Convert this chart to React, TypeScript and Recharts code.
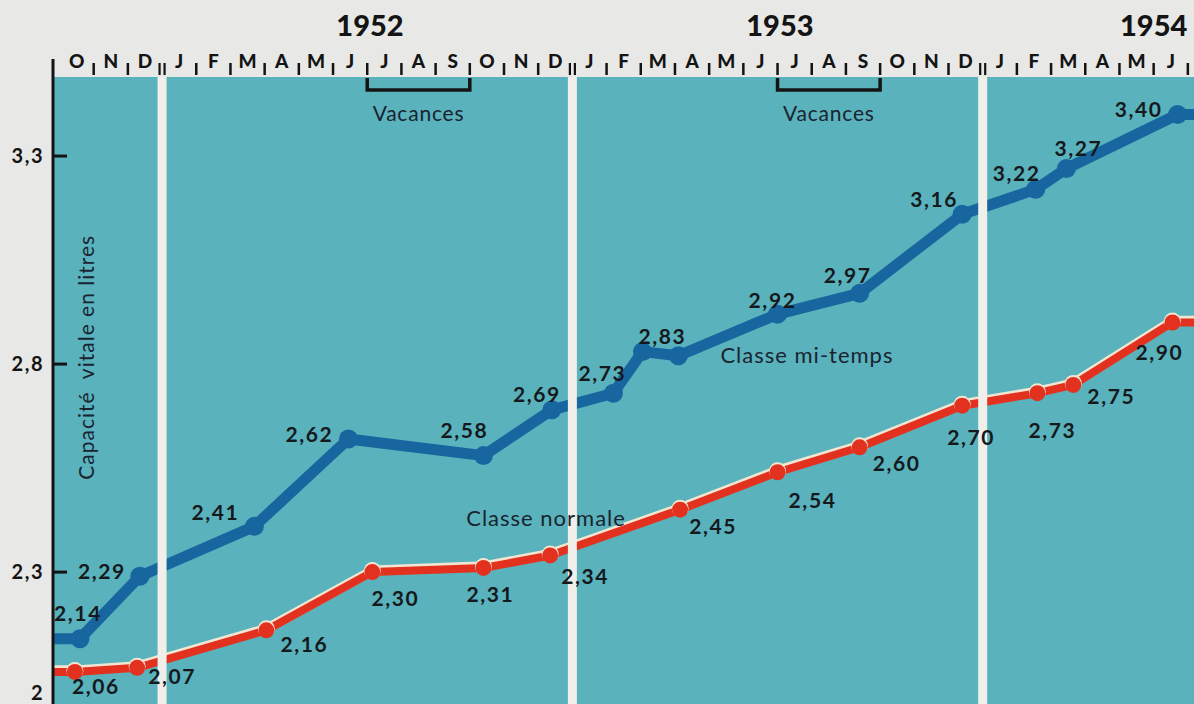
import React from 'react';
import {
  ComposedChart,
  Line,
  XAxis,
  YAxis,
  CartesianGrid,
  ReferenceLine,
  ReferenceArea,
  ReferenceDot,
  LabelList,
} from 'recharts';

// abscisse en mois depuis le 1er octobre 1951 (0 = début octobre)
const moisLettres = [
  'O', 'N', 'D',
  'J', 'F', 'M', 'A', 'M', 'J', 'J', 'A', 'S', 'O', 'N', 'D',
  'J', 'F', 'M', 'A', 'M', 'J', 'J', 'A', 'S', 'O', 'N', 'D',
  'J', 'F', 'M', 'A', 'M', 'J',
];
const annees = ['1952', '1953', '1954'];
const anneesCentres = [9.08, 21.07, 32.0];
const finsAnnee = [3, 15, 27];
const vacancesDebut = [9, 21];
const vacancesFin = [12, 24];
const graduationsY = [2, 2.3, 2.8, 3.3];

// Classe mi-temps
const moisMiTemps = [-0.6, 0.6, 2.35, 5.7, 8.45, 12.4, 14.4, 16.2, 17.05, 18.1, 21.0, 23.4, 26.4, 28.55, 29.45, 32.7, 33.8];
const valeursMiTemps = [2.14, 2.14, 2.29, 2.41, 2.62, 2.58, 2.69, 2.73, 2.83, 2.82, 2.92, 2.97, 3.16, 3.22, 3.27, 3.40, 3.40];

// Classe normale
const moisNormale = [-0.6, 0.45, 2.27, 6.05, 9.15, 12.4, 14.35, 18.15, 21.0, 23.4, 26.4, 28.6, 29.65, 32.55, 33.8];
const valeursNormale = [2.06, 2.06, 2.07, 2.16, 2.30, 2.31, 2.34, 2.45, 2.54, 2.60, 2.70, 2.73, 2.75, 2.90, 2.90];

// décalage des étiquettes de valeur par rapport au point (null = pas d'étiquette)
type Decalage = [number, number] | null;
const decalagesMiTemps: Decalage[] = [
  null, [-2, -26], [-38, -6], [-39, -15], [-39, -5], [-19, -26], [-15, -16], [-11, -21],
  [20, -16], null, [-5, -15], [-12, -19], [-28, -16], [-19, -17], [12, -21], [-39, -6], null,
];
const decalagesNormale: Decalage[] = [
  null, [21, 14], [35, 8], [38, 13], [23, 25], [7, 26], [35, 20], [33, 16],
  [35, 27], [37, 15], [9, 31], [15, 36], [38, 11], [-13, 29], null,
];

const donneesMiTemps = moisMiTemps.map((t, i) => ({ t, v: valeursMiTemps[i] }));
const donneesNormale = moisNormale.map((t, i) => ({ t, v: valeursNormale[i] }));

const ticksHaut: number[] = [-0.19];
moisLettres.forEach((_, i) => {
  ticksHaut.push(i + 0.5);
  ticksHaut.push(i + 1);
});

const BLEU = '#17669f';
const ROUGE = '#e2321f';
const TURQUOISE = '#59b2bc';
const BLANC = '#f1efe9';
const NOIR = '#141414';
const ENCRE = '#1a2430';
const POLICE = 'Lato, "Open Sans", sans-serif';

const virgule = (v: number, d: number) => v.toFixed(d).replace('.', ',');

const TickMois = (props: any) => {
  const { x, y, payload } = props;
  const v = payload.value as number;
  if (v < 0) {
    return <line x1={x} x2={x} y1={y - 18} y2={y} stroke={NOIR} strokeWidth={3} />;
  }
  if (Number.isInteger(v)) {
    if (finsAnnee.includes(v)) {
      return (
        <g>
          <line x1={x - 2.5} x2={x - 2.5} y1={y - 14} y2={y - 2} stroke={NOIR} strokeWidth={2.2} />
          <line x1={x + 2.5} x2={x + 2.5} y1={y - 14} y2={y - 2} stroke={NOIR} strokeWidth={2.2} />
        </g>
      );
    }
    return <line x1={x} x2={x} y1={y - 14} y2={y - 2} stroke={NOIR} strokeWidth={2.5} />;
  }
  return (
    <text x={x} y={y - 9} textAnchor="middle" fontFamily={POLICE} fontWeight={900} fontSize={19} fill={NOIR}>
      {moisLettres[Math.floor(v)]}
    </text>
  );
};

const TickY = (props: any) => {
  const { x, y, payload } = props;
  const v = payload.value as number;
  // la graduation 2 est au ras du bas : on remonte un peu son texte
  const ty = v === 2 ? y - 4 : y;
  return (
    <g>
      {v > 2 && <line x1={x} x2={x + 14} y1={y} y2={y} stroke={NOIR} strokeWidth={3} />}
      <text x={x - 9} y={ty} dy="0.36em" textAnchor="end" fontFamily={POLICE} fontWeight={700} fontSize={20} fill={NOIR} letterSpacing={1.5}>
        {v === 2 ? '2' : virgule(v, 1)}
      </text>
    </g>
  );
};

const TitreY = (props: any) => {
  const vb = props.viewBox || {};
  const cx = vb.x + vb.width + 33;
  const cy = vb.y + vb.height * 0.447;
  return (
    <text
      x={cx}
      y={cy}
      transform={`rotate(-90 ${cx} ${cy})`}
      textAnchor="middle"
      dominantBaseline="central"
      fontFamily={POLICE}
      fontSize={21}
      fill={ENCRE}
      letterSpacing={1}
      style={{ whiteSpace: 'pre' }}
    >
      {'Capacité  vitale en litres'}
    </text>
  );
};

const Accolade = (props: any) => {
  const { x, y, width } = props;
  return (
    <g>
      <path d={`M${x},${y + 1} V${y + 13} H${x + width} V${y + 1}`} fill="none" stroke={NOIR} strokeWidth={3.5} />
      <text x={x + width / 2} y={y + 35} textAnchor="middle" dominantBaseline="central" fontFamily={POLICE} fontSize={21} fill={ENCRE} letterSpacing={0.8}>
        Vacances
      </text>
    </g>
  );
};

const etiquette = (decalages: Decalage[]) => (props: any) => {
  const px = props.x ?? props.viewBox?.x;
  const py = props.y ?? props.viewBox?.y;
  const d = decalages[props.index];
  if (!d || px == null || py == null) return null;
  return (
    <text
      x={px + d[0]}
      y={py + d[1]}
      textAnchor="middle"
      dominantBaseline="central"
      fontFamily={POLICE}
      fontWeight={700}
      fontSize={21}
      letterSpacing={1.6}
      fill="#15191c"
    >
      {virgule(Number(props.value), 2)}
    </text>
  );
};

const PointRouge = (props: any) => {
  const { cx, cy } = props;
  if (cx == null || cy == null) return null;
  return (
    <g>
      <circle cx={cx} cy={cy - 1.5} r={8.5} fill="#f2e6d2" />
      <circle cx={cx} cy={cy} r={8} fill={ROUGE} />
    </g>
  );
};

const PointBleu = (props: any) => {
  const { cx, cy } = props;
  if (cx == null || cy == null) return null;
  return <circle cx={cx} cy={cy} r={9.5} fill={BLEU} />;
};

const texteSerie = { fontFamily: POLICE, fontSize: 22, fill: ENCRE, letterSpacing: 1 };

export default function App() {
  return (
    <div style={{ position: 'absolute', left: 0, top: 0, width: 1194, height: 704, background: '#e8e8e6', overflow: 'hidden' }}>
      <style>{'.halo-rouge path { transform: translateY(-1.6px); }'}</style>
      <ComposedChart width={1194} height={704} margin={{ top: 0, right: 0, bottom: 0, left: 0 }}>
        <CartesianGrid fill={TURQUOISE} horizontal={false} vertical={false} stroke="none" />
        <XAxis
          type="number"
          dataKey="t"
          orientation="top"
          domain={[-0.19, 33.18]}
          allowDataOverflow
          ticks={ticksHaut}
          interval={0}
          height={77}
          tickSize={0}
          tickMargin={0}
          axisLine={false}
          tickLine={false}
          tick={<TickMois />}
        />
        <YAxis
          type="number"
          domain={[1.983, 3.49]}
          allowDataOverflow
          ticks={graduationsY}
          interval={0}
          width={53}
          tickSize={0}
          tickMargin={0}
          tickLine={false}
          axisLine={{ stroke: NOIR, strokeWidth: 3 }}
          tick={<TickY />}
          label={{ content: <TitreY /> }}
        />

        {vacancesDebut.map((x1, i) => (
          <ReferenceArea key={`vac-${i}`} x1={x1} x2={vacancesFin[i]} shape={<Accolade />} />
        ))}

        <Line
          data={donneesNormale}
          dataKey="v"
          type="linear"
          className="halo-rouge"
          stroke="#f2e6d2"
          strokeWidth={10}
          strokeLinejoin="round"
          dot={false}
          activeDot={false}
          isAnimationActive={false}
        />
        <Line
          data={donneesNormale}
          dataKey="v"
          type="linear"
          stroke={ROUGE}
          strokeWidth={8}
          strokeLinejoin="round"
          dot={<PointRouge />}
          activeDot={false}
          isAnimationActive={false}
        >
          <LabelList dataKey="v" content={etiquette(decalagesNormale)} />
        </Line>
        <Line
          data={donneesMiTemps}
          dataKey="v"
          type="linear"
          stroke={BLEU}
          strokeWidth={11}
          strokeLinejoin="round"
          dot={<PointBleu />}
          activeDot={false}
          isAnimationActive={false}
        >
          <LabelList dataKey="v" content={etiquette(decalagesMiTemps)} />
        </Line>

        {finsAnnee.map((x) => (
          <ReferenceLine key={`fin-${x}`} x={x} stroke={BLANC} strokeWidth={9} zIndex={450} />
        ))}

        {annees.map((a, i) => (
          <ReferenceLine
            key={a}
            x={anneesCentres[i]}
            stroke="none"
            label={{ value: a, position: 'top', offset: 41, fontFamily: POLICE, fontWeight: 900, fontSize: 29, fill: NOIR }}
          />
        ))}

        <ReferenceDot x={21.86} y={2.822} r={0} fill="none" stroke="none" label={{ value: 'Classe mi-temps', position: 'center', ...texteSerie }} />
        <ReferenceDot x={14.23} y={2.43} r={0} fill="none" stroke="none" label={{ value: 'Classe normale', position: 'center', ...texteSerie }} />
      </ComposedChart>
    </div>
  );
}
